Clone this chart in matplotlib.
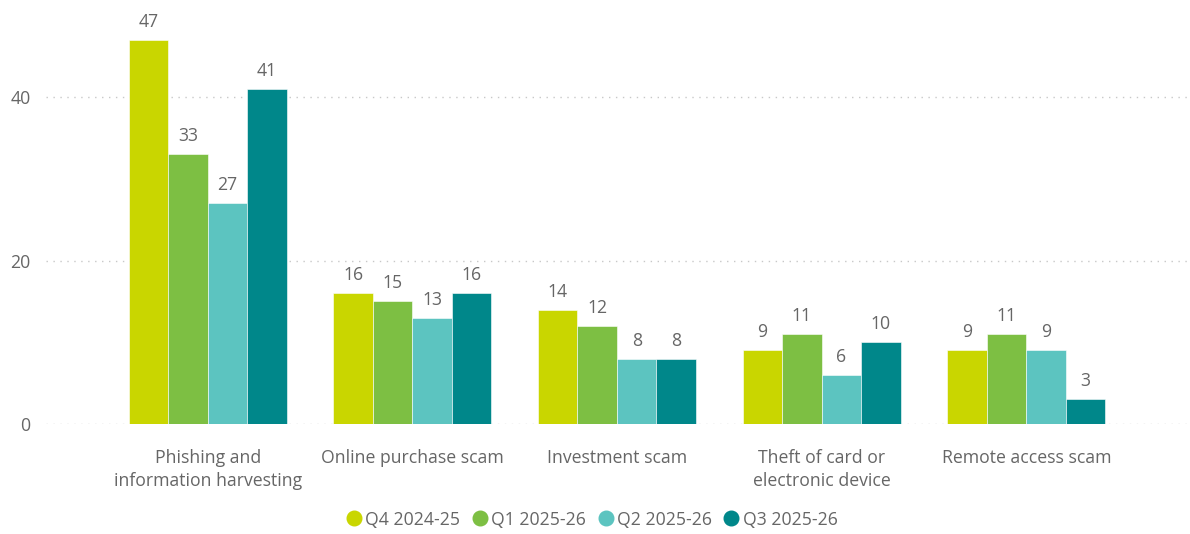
import matplotlib
matplotlib.use("Agg")
import matplotlib.pyplot as plt
from matplotlib.lines import Line2D
import numpy as np

categories = ["Phishing and\ninformation harvesting", "Online purchase scam",
              "Investment scam", "Theft of card or\nelectronic device", "Remote access scam"]
series_names = ["Q4 2024-25", "Q1 2025-26", "Q2 2025-26", "Q3 2025-26"]
q4_2024_25 = [47, 16, 14, 9, 9]
q1_2025_26 = [33, 15, 12, 11, 11]
q2_2025_26 = [27, 13, 8, 6, 9]
q3_2025_26 = [41, 16, 8, 10, 3]
colors = ["#C9D600", "#7DBF43", "#5CC4C0", "#00878A"]
yticks = [0, 20, 40]

plt.rcParams['font.family'] = ['Open Sans', 'DejaVu Sans']
text_color = "#666666"
fs = 12.7

fig = plt.figure(figsize=(11.9, 5.34), dpi=100)
ax = fig.add_axes([46/1190, (534-424)/534, (1190-46)/1190, (424-8)/534])

series = [q4_2024_25, q1_2025_26, q2_2025_26, q3_2025_26]
x = np.arange(len(categories))
bw = 0.193
for i, (vals, col, name) in enumerate(zip(series, colors, series_names)):
    pos = x + (i - 1.5) * bw
    bars = ax.bar(pos, vals, width=bw, color=col, edgecolor="white", linewidth=0.4, zorder=3, label=name)
    for b, v in zip(bars, vals):
        ax.annotate(str(v), (b.get_x() + b.get_width()/2, v), xytext=(0, 6.5),
                    textcoords="offset points", ha="center", va="bottom",
                    fontsize=fs, color=text_color)

ax.set_xlim(-0.79, 4.80)
ax.set_ylim(0, (424-8)/8.175)
ax.set_yticks(yticks)
ax.set_yticklabels([str(t) for t in yticks], fontsize=fs, color=text_color)
ax.set_xticks(x)
ax.set_xticklabels(categories, fontsize=fs, color=text_color, linespacing=1.35)
ax.tick_params(axis="both", length=0)
ax.tick_params(axis="x", pad=18)
ax.tick_params(axis="y", pad=11)
for s in ax.spines.values():
    s.set_visible(False)
ax.grid(axis="y", color="#C8C8C8", linestyle=(0, (1, 4)), linewidth=1.0, zorder=0)
ax.set_axisbelow(True)

handles = [Line2D([0], [0], marker="o", linestyle="none", markersize=10.5,
                  markerfacecolor=c, markeredgecolor=c) for c in colors]
leg = fig.legend(handles, series_names, loc="center", bbox_to_anchor=(0.497, 0.027),
                 ncol=4, frameon=False, fontsize=fs, handletextpad=0.15,
                 columnspacing=0.6, handlelength=1.0)
for t in leg.get_texts():
    t.set_color(text_color)

fig.savefig("out.png", dpi=100)
